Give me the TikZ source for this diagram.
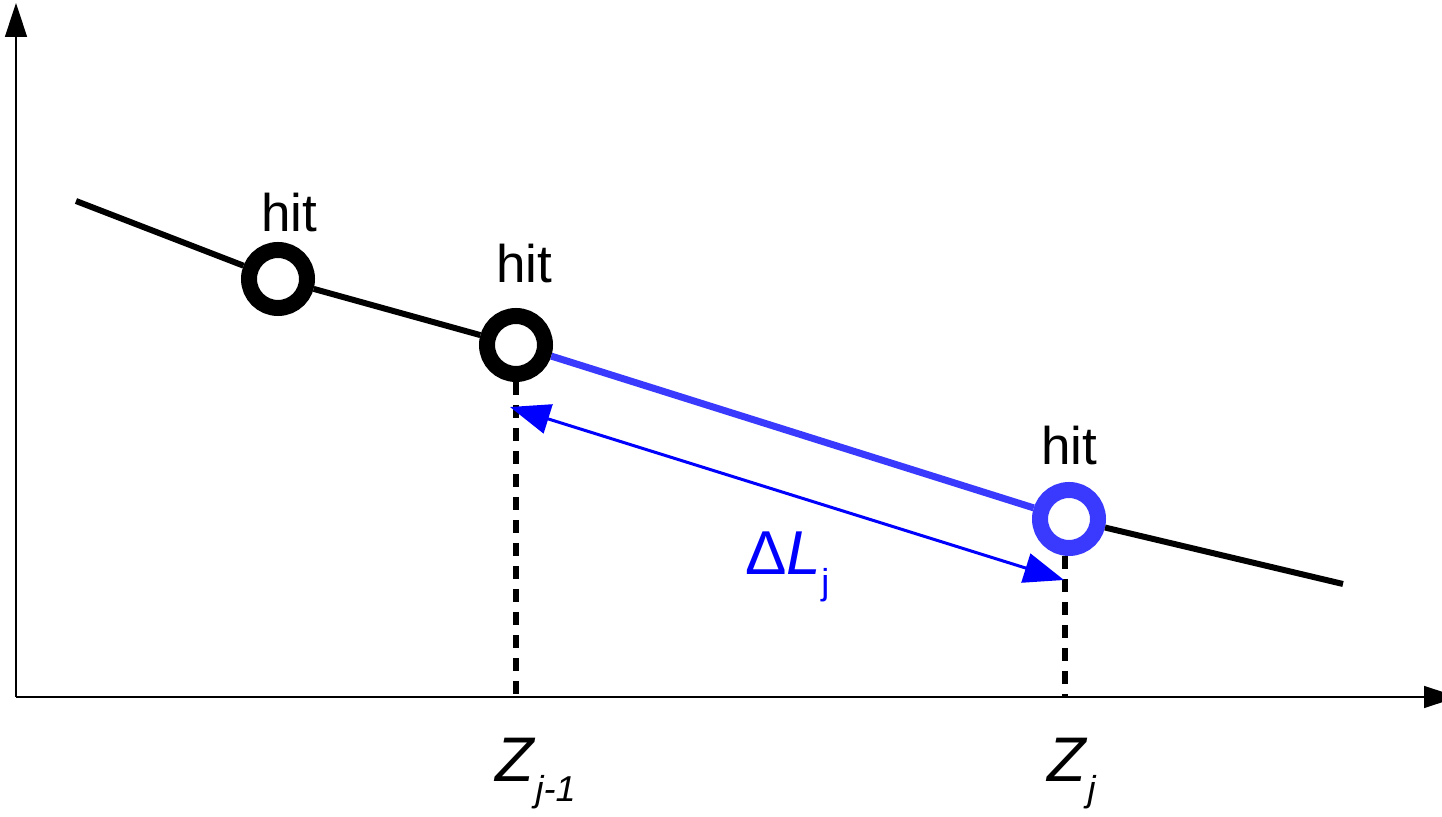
\documentclass[tikz,border=0pt]{standalone}
\usepackage{fontspec}
\setmainfont{Liberation Sans}
\usetikzlibrary{arrows.meta}
\usepackage{xcolor}
\definecolor{trackBlue}{HTML}{3A3AFF}
\definecolor{arrowBlue}{HTML}{0000FF}
\newcommand{\lowSub}[1]{\raisebox{-10pt}{\fontsize{18}{20}\selectfont #1}}
\tikzset{
    HitText/.style={font=\fontsize{26.5}{30}\selectfont, anchor=base},
    AxisLabel/.style={font=\fontsize{31.5}{36}\selectfont, anchor=base west, inner sep=0pt},
    HitRing/.style={circle, draw, fill=white, line width=8pt, minimum size=29pt, inner sep=0pt, outer sep=4pt},
    AxisLine/.style={-{Triangle[length=17pt, width=11pt]}, line width=0.75pt},
    TrackLine/.style={line width=3pt},
    DropLine/.style={line width=2.7pt, dash pattern=on 6.5pt off 5pt},
    DeltaArrow/.style={{Triangle[length=20pt, width=15pt]}-{Triangle[length=20pt, width=15pt]}, line width=1.5pt, arrowBlue}
}
\begin{document}
\begin{tikzpicture}[x=0.5pt, y=-0.5pt]
    \useasboundingbox (0,0) rectangle (1442,817);

    % axes
    \coordinate (orig) at (16,697);
    \coordinate (yTop) at (16,3);
    \coordinate (xEnd) at (1458,697);
    \draw[AxisLine] (orig) -- (yTop);
    \draw[AxisLine] (orig) -- (xEnd);

    % hits on the track
    \node[HitRing] (hitA) at (278,279) {};
    \node[HitRing] (hitB) at (516,345) {};
    \node[HitRing, draw=trackBlue] (hitC) at (1069,519) {};
    \node[HitText] (labA) at (289,232) {hit};
    \node[HitText] (labB) at (524,283) {hit};
    \node[HitText] (labC) at (1069,465) {hit};

    \coordinate (trackStart) at (76,201);
    \coordinate (trackEnd) at (1343,584);
    \draw[TrackLine] (trackStart) -- (hitA) -- (hitB);
    \draw[TrackLine, trackBlue, line width=3.5pt] (hitB) -- (hitC);
    \draw[TrackLine] (hitC) -- (trackEnd);

    % projections onto z
    \draw[DropLine] (hitB.south) -- (hitB.south |- orig);
    \draw[DropLine] ([xshift=-2pt]hitC.south) -- ([xshift=-2pt]hitC.south |- orig);

    % path length between the two hits
    \coordinate (dlFrom) at (510,407);
    \coordinate (dlTo) at (1064,580);
    \draw[DeltaArrow] (dlFrom) -- (dlTo);
    \node[AxisLabel, font=\fontsize{31}{34}\selectfont, text=arrowBlue] (dl) at (745,575) {Δ\textit{L}\lowSub{j}};

    \node[AxisLabel] (zPrev) at (495,782) {\textit{Z}\lowSub{\textit{j-1}}};
    \node[AxisLabel] (zCur) at (1047,782) {\textit{Z}\lowSub{\textit{j}}};
\end{tikzpicture}
\end{document}
